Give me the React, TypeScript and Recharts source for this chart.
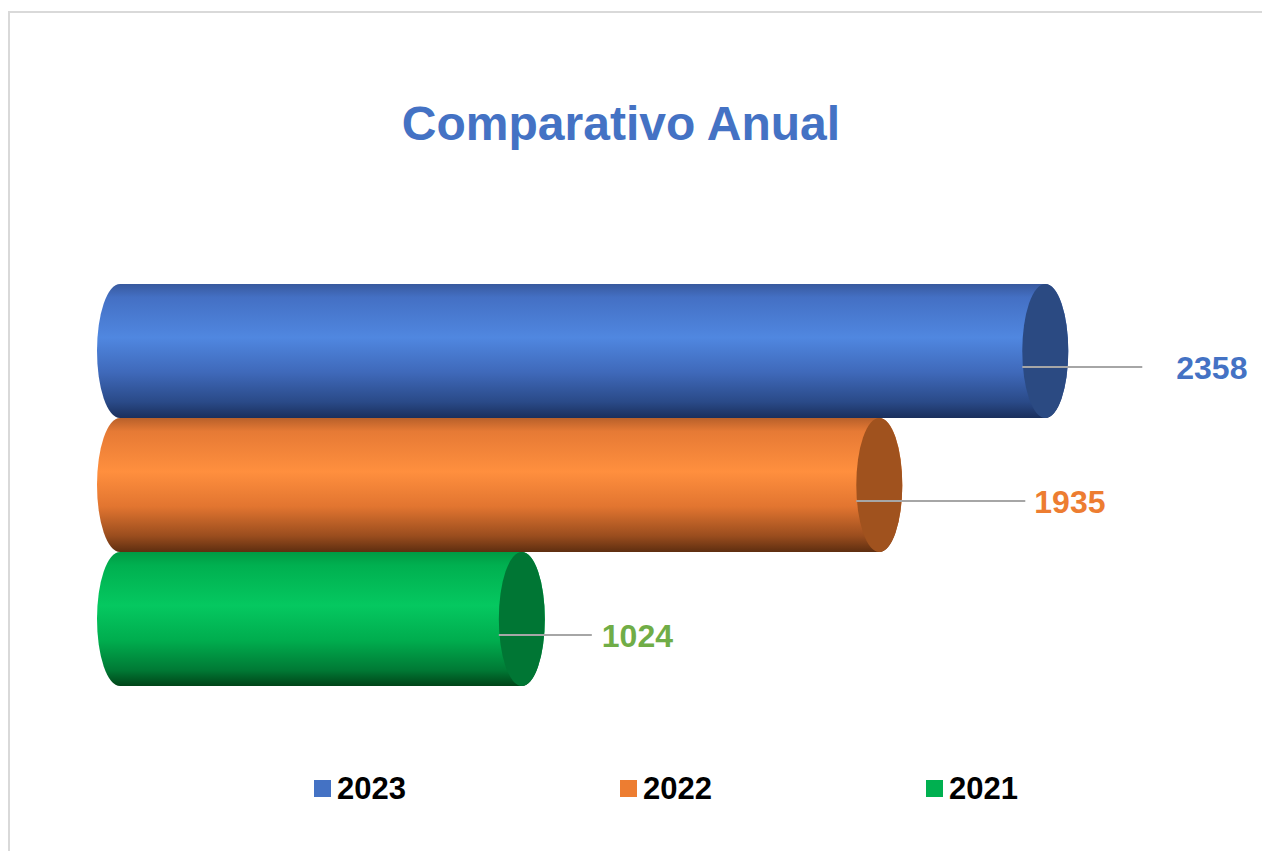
import React from 'react';
import { BarChart, Bar, XAxis, YAxis, Legend, LabelList } from 'recharts';

// ---- data ----
const categories = ['Total'];
const seriesNames = ['2023', '2022', '2021'];
const seriesValues = [2358, 1935, 1024];
const axisMax = 2500;

// ---- styles ----
const legendColors = ['#4472C4', '#ED7D31', '#00B050'];
const labelColors = ['#4472C4', '#ED7D31', '#70AD47'];
const capColors = ['#2B4A82', '#A0521E', '#007634'];
const gradientStops: string[][] = [
  ['#38599E', '#4470C4', '#5087E0', '#3F69BA', '#2A4A88', '#1A2F5C'],
  ['#B8602A', '#E67A35', '#FF8F3E', '#E27530', '#9A4D1E', '#5E2E10'],
  ['#009A44', '#00B050', '#05C860', '#00AD4E', '#007A35', '#004418'],
];
const stopOffsets = [0, 0.1, 0.4, 0.66, 0.88, 1];
// leader line end / text start offsets from bar end (per series)
const lineEndOffsets = [97, 146, 70];
const textStartOffsets = [131, 155, 80];

const data = categories.map((c) => {
  const row: Record<string, string | number> = { name: c };
  seriesNames.forEach((s, i) => {
    row[s] = seriesValues[i];
  });
  return row;
});

const RX = 23;

const makeCylinder = (idx: number) => (props: any) => {
  const { x, y, width, height } = props;
  if (width == null || height == null) return null;
  const ry = height / 2;
  const x2 = x + width;
  const d = `M ${x},${y} L ${x2},${y} A ${RX},${ry} 0 0 1 ${x2},${y + height} L ${x},${y + height} A ${RX},${ry} 0 0 1 ${x},${y} Z`;
  return (
    <g>
      <path d={d} fill={`url(#cyl${idx})`} />
      <ellipse cx={x2} cy={y + ry} rx={RX} ry={ry} fill={capColors[idx]} />
    </g>
  );
};

const makeLabel = (idx: number) => (props: any) => {
  const { x, y, width, height, value } = props;
  const end = x + width;
  const ly = y + height / 2 + 16;
  return (
    <g>
      <line x1={end - RX} y1={ly} x2={end + lineEndOffsets[idx]} y2={ly} stroke="#A6A6A6" strokeWidth={2} />
      <text
        x={end + textStartOffsets[idx]}
        y={ly + 12}
        fill={labelColors[idx]}
        fontFamily="'Liberation Sans', Arial, sans-serif"
        fontWeight="bold"
        fontSize={32}
      >
        {value}
      </text>
    </g>
  );
};

const LegendContent = () => (
  <div style={{ display: 'flex', fontFamily: "'Liberation Sans', Arial, sans-serif" }}>
    {seriesNames.map((s, i) => (
      <div key={s} style={{ width: 306, display: 'flex', alignItems: 'center' }}>
        <span style={{ display: 'inline-block', width: 17, height: 17, background: legendColors[i], marginRight: 6 }} />
        <span style={{ fontSize: 31, fontWeight: 'bold', color: '#000', lineHeight: '31px' }}>{s}</span>
      </div>
    ))}
  </div>
);

export default function App() {
  return (
    <div style={{ position: 'relative', width: 1262, height: 843, overflow: 'hidden' }}>
      <div
        style={{
          position: 'absolute',
          left: 0,
          top: 3,
          width: 1400,
          height: 1000,
          borderLeft: '2px solid #D9D9D9',
          borderTop: '2px solid #D9D9D9',
        }}
      />
      <BarChart
        width={1262}
        height={843}
        data={data}
        layout="vertical"
        barGap={0}
        barCategoryGap={0}
        margin={{ top: 276, right: 169, bottom: 164, left: 112 }}
        style={{ position: 'absolute', left: 0, top: 0 }}
      >
        <defs>
          {gradientStops.map((stops, i) => (
            <linearGradient key={i} id={`cyl${i}`} x1="0" y1="0" x2="0" y2="1">
              {stops.map((c, j) => (
                <stop key={j} offset={stopOffsets[j]} stopColor={c} />
              ))}
            </linearGradient>
          ))}
        </defs>
        <text
          x={613}
          y={132}
          textAnchor="middle"
          fill="#4472C4"
          fontFamily="'Liberation Sans', Arial, sans-serif"
          fontWeight="bold"
          fontSize={48}
        >
          Comparativo Anual
        </text>
        <XAxis type="number" domain={[0, axisMax]} hide />
        <YAxis type="category" dataKey="name" hide />
        <Legend
          layout="horizontal"
          verticalAlign="middle"
          align="center"
          content={<LegendContent />}
          wrapperStyle={{ position: 'absolute', left: 306, top: 765, width: 'auto' }}
        />
        {seriesNames.map((s, i) => (
          <Bar key={s} dataKey={s} name={s} fill={legendColors[i]} shape={makeCylinder(i)} isAnimationActive={false}>
            <LabelList dataKey={s} content={makeLabel(i)} />
          </Bar>
        ))}
      </BarChart>
    </div>
  );
}
